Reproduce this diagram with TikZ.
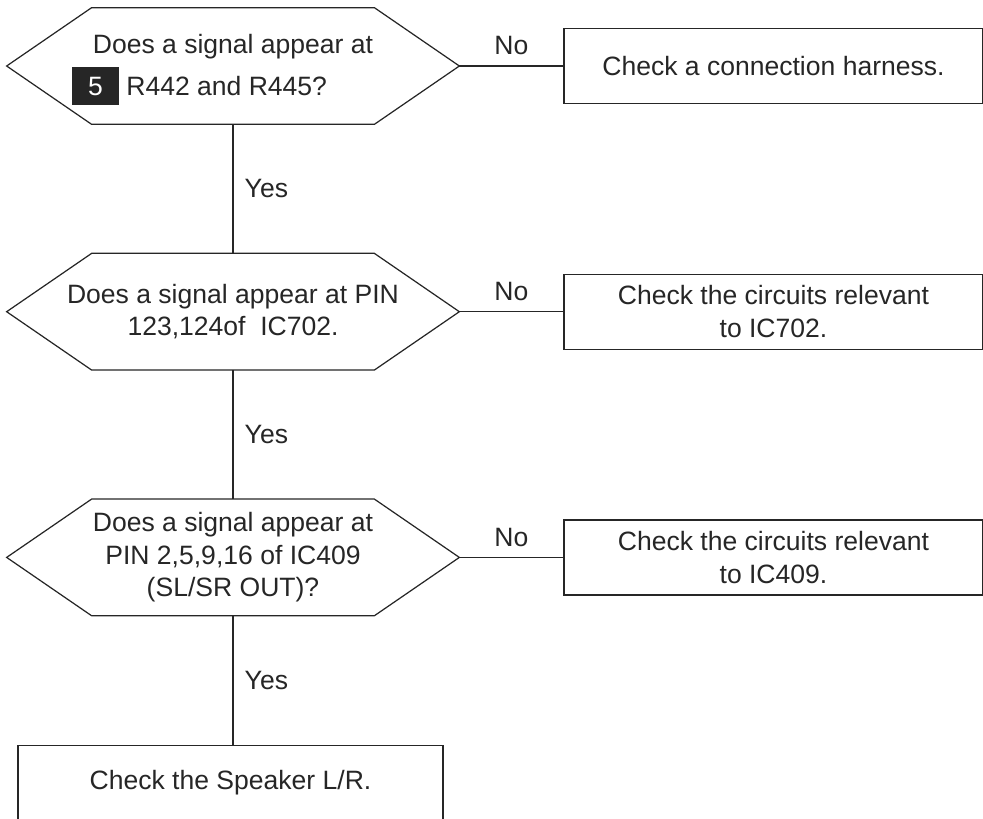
\documentclass[tikz,border=0pt]{standalone}
\usepackage{fontspec}
\setmainfont{Liberation Sans}
\usetikzlibrary{positioning}

% black tag with a white number, as in the service manual
\newcommand{\refmark}[1]{{\setlength{\fboxsep}{0pt}\colorbox{black!85}{\makebox[0.94cm]{\rule[-0.2cm]{0pt}{0.76cm}\textcolor{white}{#1}}}}}

\begin{document}
\begin{tikzpicture}[
    color=black!85,
    font=\fontsize{15.1}{18.6}\selectfont,
    decision/.style={
        minimum width=9.04cm,
        minimum height=2.32cm,
        inner sep=0pt,
        align=center
    },
    block/.style={
        draw,
        line width=0.7pt,
        minimum height=1.5cm,
        inner sep=0pt,
        align=center
    },
    check/.style={block, minimum width=8.38cm},
    hexa/.style={draw, line width=0.7pt},
    link/.style={draw, line width=0.7pt}
]
\useasboundingbox (0,0) rectangle (19.66,-16.36);

% ============================================================
% DECISIONS
% ============================================================
\node[decision] (q1) at (4.66,-1.32)
    {\rule{0pt}{0.54cm}Does a signal appear at\\[0.12cm]\refmark{5} R442 and R445?\hspace*{1.34cm}};
\node[decision, below=2.58cm of q1] (q2)
    {Does a signal appear at PIN\\123,124of~ IC702.};
\node[decision, below=2.58cm of q2] (q3)
    {Does a signal appear at\\PIN 2,5,9,16 of IC409\\(SL/SR OUT)?};

\foreach \q in {q1,q2,q3}
    \draw[hexa] (\q.west) -- ([xshift=1.7cm]\q.north west)
        -- ([xshift=-1.7cm]\q.north east) -- (\q.east)
        -- ([xshift=-1.7cm]\q.south east) -- ([xshift=1.7cm]\q.south west) -- cycle;

% ============================================================
% ACTIONS
% ============================================================
\node[check, right=2.08cm of q1] (r1) {Check a connection harness.};
\node[check, right=2.08cm of q2] (r2) {Check the circuits relevant\\to IC702.};
\node[check, right=2.08cm of q3] (r3) {Check the circuits relevant\\to IC409.};
\node[block, minimum width=8.5cm, minimum height=1.48cm,
      below=2.58cm of q3, xshift=-0.05cm] (spk) {Check the Speaker L/R.};

% ============================================================
% CONNECTORS
% ============================================================
\draw[link] (q1.east) -- node[above=2.5pt] {No} (q1.east -| r1.west);
\draw[link] (q2.east) -- node[above=2.5pt] {No} (q2.east -| r2.west);
\draw[link] (q3.east) -- node[above=2.5pt] {No} (q3.east -| r3.west);

\draw[link] (q1.south) -- node[right=3pt] {Yes} (q2.north);
\draw[link] (q2.south) -- node[right=3pt] {Yes} (q3.north);
\draw[link] (q3.south) -- node[right=3pt] {Yes} (q3.south |- spk.north);

\end{tikzpicture}
\end{document}
